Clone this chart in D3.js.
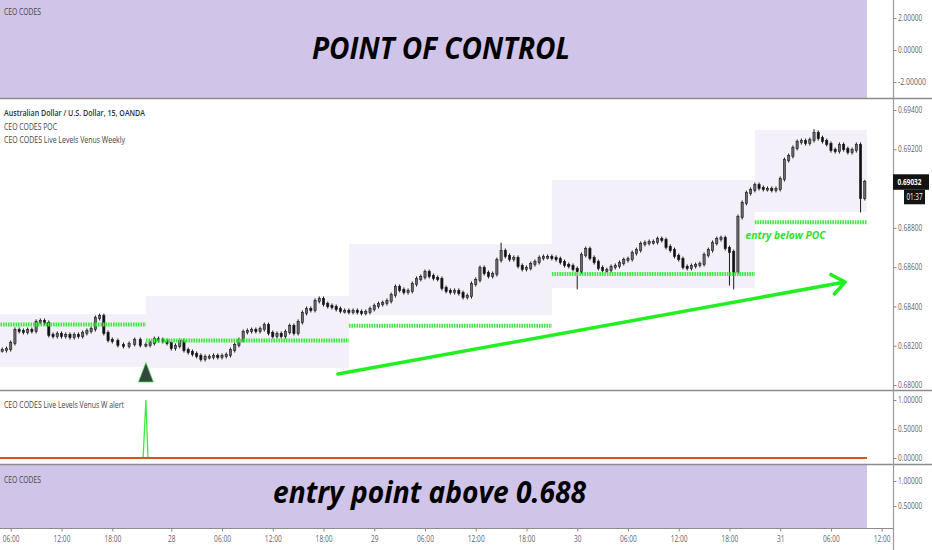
<!DOCTYPE html>
<html>
<head>
<meta charset="utf-8">
<script src="https://cdn.jsdelivr.net/npm/d3@7"></script>
<style>
  body { margin: 0; background: #fff; }
  svg text { font-family: "Open Sans", "DejaVu Sans", sans-serif; }
</style>
</head>
<body>
<svg id="chart"></svg>
<script>
// AUD/USD at 30 min steps (hours counted from the 27th 00:00)
const firstBarHour = 4.5;
const barStep = 0.5;
const closes = [
  0.68178, 0.68178, 0.68183, 0.68214, 0.68280, 0.68275, 0.68270, 0.68280, 0.68275, 0.68321,
  0.68326, 0.68316, 0.68255, 0.68249, 0.68260, 0.68249, 0.68255, 0.68244, 0.68255, 0.68249,
  0.68265, 0.68275, 0.68285, 0.68341, 0.68351, 0.68265, 0.68229, 0.68224, 0.68204, 0.68199,
  0.68209, 0.68229, 0.68204, 0.68204, 0.68214, 0.68234, 0.68229, 0.68224, 0.68214, 0.68188,
  0.68199, 0.68224, 0.68178, 0.68168, 0.68158, 0.68148, 0.68132, 0.68143, 0.68143, 0.68148,
  0.68143, 0.68148, 0.68153, 0.68178, 0.68204, 0.68229, 0.68270, 0.68275, 0.68280, 0.68275,
  0.68285, 0.68305, 0.68265, 0.68249, 0.68260, 0.68249, 0.68270, 0.68300, 0.68265, 0.68321,
  0.68367, 0.68387, 0.68382, 0.68428, 0.68438, 0.68412, 0.68402, 0.68397, 0.68387, 0.68377,
  0.68377, 0.68372, 0.68377, 0.68372, 0.68367, 0.68372, 0.68387, 0.68402, 0.68412, 0.68417,
  0.68428, 0.68458, 0.68499, 0.68484, 0.68473, 0.68479, 0.68514, 0.68540, 0.68550, 0.68575,
  0.68555, 0.68545, 0.68540, 0.68494, 0.68479, 0.68473, 0.68479, 0.68468, 0.68448, 0.68453,
  0.68514, 0.68535, 0.68596, 0.68570, 0.68555, 0.68565, 0.68636, 0.68682, 0.68657, 0.68641,
  0.68647, 0.68606, 0.68591, 0.68596, 0.68616, 0.68626, 0.68647, 0.68652, 0.68652, 0.68647,
  0.68641, 0.68626, 0.68611, 0.68606, 0.68591, 0.68580, 0.68662, 0.68692, 0.68647, 0.68626,
  0.68596, 0.68585, 0.68585, 0.68601, 0.68606, 0.68621, 0.68636, 0.68641, 0.68672, 0.68687,
  0.68718, 0.68723, 0.68728, 0.68728, 0.68743, 0.68738, 0.68703, 0.68687, 0.68657, 0.68641,
  0.68601, 0.68596, 0.68606, 0.68611, 0.68616, 0.68662, 0.68687, 0.68723, 0.68743, 0.68748,
  0.68697, 0.68677, 0.68575, 0.68855, 0.68927, 0.68977, 0.68993, 0.69018, 0.69003, 0.68998,
  0.68998, 0.68993, 0.68998, 0.69049, 0.69145, 0.69166, 0.69207, 0.69237, 0.69242, 0.69232,
  0.69247, 0.69283, 0.69257, 0.69242, 0.69227, 0.69196, 0.69191, 0.69222, 0.69201, 0.69186,
  0.69196, 0.69222, 0.68952, 0.69032
];
// long wicks worth keeping: [bar index, price]
const wickLows = [[135, 0.68499], [171, 0.68519], [172, 0.68499], [202, 0.68891]];
const wickHighs = [[117, 0.68712], [191, 0.69290]];

// daily sessions (21:00 to 21:00) of the POC / Venus weekly levels
const sessionStart = [4.5, 21, 45, 69, 93];
const sessionEnd = [21, 45, 69, 93, 106.25];
const pocLevel = [0.68308, 0.68226, 0.68302, 0.68565, 0.68828];
const rangeHigh = [0.68361, 0.68453, 0.68718, 0.69044, 0.69298];
const rangeLow = [0.68092, 0.68087, 0.68356, 0.68494, 0.68881];

// alert pane
const alertHours = [4.5, 20.75, 21, 21.25, 106.25];
const alertValues = [0, 0, 1, 0, 0];
const signalHour = 21;
const signalPrice = 0.68064;

// drawn annotations
const arrowHours = [43.7, 103.67];
const arrowPrices = [0.68056, 0.68524];
const noteHour = 91.9;
const notePrice = 0.68743;

const lastPrice = 0.69032;
const countdown = "01:37";

const priceTicks = [0.680, 0.682, 0.684, 0.686, 0.688, 0.692, 0.694];
const topTicks = [-2, 0, 2];
const alertTicks = [0, 0.5, 1];
const bottomTicks = [0.5, 1];
const timeTickHours = [6, 12, 18, 24, 30, 36, 42, 48, 54, 60, 66, 72, 78, 84, 90, 96, 102, 108];
const timeTickLabels = ["06:00", "12:00", "18:00", "28", "06:00", "12:00", "18:00", "29", "06:00",
  "12:00", "18:00", "30", "06:00", "12:00", "18:00", "31", "06:00", "12:00"];

const width = 932;
const height = 550;
const axisX = 893;
const endX = 867;
const purple = "#d1c4e9";
const sepColor = "#8c8c8c";
const labelColor = "#5d606b";

const svg = d3.select("#chart")
    .attr("width", width)
    .attr("height", height);

// time scale is piecewise: the chart squeezes a little more into the first evening
const x = d3.scaleLinear().domain([6, 18, 21, 108]).range([10.7, 112.3, 145.9, 881.7]);
const yTop = d3.scaleLinear().domain([-2, 2]).range([82, 18]);
const y = d3.scaleLinear().domain([0.680, 0.694]).range([385, 110]);
const yAlert = d3.scaleLinear().domain([0, 1]).range([458, 400]);
const yBottom = d3.scaleLinear().domain([0.5, 1]).range([506, 481]);

// the screenshot is squeezed sideways, so text widths are forced
function squeeze(t) {
    let w = 0;
    for (const ch of t) w += (ch === "." || ch === ":") ? 1.8 : 3.75;
    return w;
}

// pane backgrounds
svg.append("rect").attr("x", 0).attr("y", 0).attr("width", endX).attr("height", 98).attr("fill", purple);
svg.append("rect").attr("x", 0).attr("y", 465).attr("width", endX).attr("height", 63).attr("fill", purple);

// main pane
svg.append("clipPath").attr("id", "mainClip")
  .append("rect").attr("x", 0).attr("y", 99).attr("width", axisX).attr("height", 291);
const main = svg.append("g").attr("clip-path", "url(#mainClip)");

main.selectAll("rect.range")
    .data(sessionStart)
    .enter().append("rect")
    .attr("class", "range")
    .attr("x", (d, i) => x(d))
    .attr("width", (d, i) => x(sessionEnd[i]) - x(d))
    .attr("y", (d, i) => y(rangeHigh[i]))
    .attr("height", (d, i) => y(rangeLow[i]) - y(rangeHigh[i]))
    .attr("fill", "#f3f0f9");

const bars = closes.map((c, i) => {
    const o = i > 0 ? closes[i - 1] : c;
    let hi = Math.max(o, c), lo = Math.min(o, c);
    wickLows.forEach(w => { if (w[0] === i) lo = Math.min(lo, w[1]); });
    wickHighs.forEach(w => { if (w[0] === i) hi = Math.max(hi, w[1]); });
    return { h: firstBarHour + i * barStep, o: o, c: c, hi: hi, lo: lo };
});

main.selectAll("line.wick")
    .data(bars)
    .enter().append("line")
    .attr("class", "wick")
    .attr("x1", d => x(d.h)).attr("x2", d => x(d.h))
    .attr("y1", d => y(d.hi) - 2.5)
    .attr("y2", d => y(d.lo) + 2.5)
    .attr("stroke", "#1c1c1c")
    .attr("stroke-width", 1);

main.selectAll("rect.body")
    .data(bars)
    .enter().append("rect")
    .attr("class", "body")
    .attr("x", d => x(d.h) - 1.1)
    .attr("width", 2.2)
    .attr("y", d => y(Math.max(d.o, d.c)) - 0.6)
    .attr("height", d => Math.max(1.8, Math.abs(y(d.o) - y(d.c)) + 1.2))
    .attr("fill", d => d.c >= d.o ? "#6b6b6b" : "#111")
    .attr("stroke", "#1c1c1c")
    .attr("stroke-width", 0.6);

// POC lines
main.selectAll("line.poc")
    .data(pocLevel)
    .enter().append("line")
    .attr("class", "poc")
    .attr("x1", (d, i) => x(sessionStart[i]))
    .attr("x2", (d, i) => x(sessionEnd[i]))
    .attr("y1", d => y(d)).attr("y2", d => y(d))
    .attr("stroke", "#3fe83f")
    .attr("stroke-width", 4)
    .attr("stroke-dasharray", "1.6 0.9");

// arrow
const p0 = [x(arrowHours[0]), y(arrowPrices[0])];
const p1 = [x(arrowHours[1]), y(arrowPrices[1])];
const ang = Math.atan2(p0[1] - p1[1], p0[0] - p1[0]);
const headLen = 16, spread = 38 * Math.PI / 180;
const arrowPath = d3.path();
arrowPath.moveTo(p0[0], p0[1]);
arrowPath.lineTo(p1[0], p1[1]);
arrowPath.moveTo(p1[0] + headLen * Math.cos(ang - spread), p1[1] + headLen * Math.sin(ang - spread));
arrowPath.lineTo(p1[0], p1[1]);
arrowPath.lineTo(p1[0] + headLen * Math.cos(ang + spread), p1[1] + headLen * Math.sin(ang + spread));
main.append("path")
    .attr("d", arrowPath.toString())
    .attr("fill", "none")
    .attr("stroke", "#22ee22")
    .attr("stroke-width", 3.5)
    .attr("stroke-linecap", "round")
    .attr("stroke-linejoin", "round");

main.append("text")
    .attr("x", x(noteHour)).attr("y", y(notePrice))
    .attr("font-size", 10.5)
    .attr("font-weight", 700)
    .attr("font-style", "italic")
    .attr("fill", "#2ee02e")
    .attr("textLength", 80)
    .attr("lengthAdjust", "spacingAndGlyphs")
    .text("entry below POC");

// signal triangle
main.append("path")
    .attr("transform", `translate(${x(signalHour)},${y(signalPrice)})`)
    .attr("d", "M0,-10L7.5,9.6L-7.5,9.6Z")
    .attr("fill", "#2f4a3a")
    .attr("stroke", "#5be35b")
    .attr("stroke-width", 0.7);

// alert pane
const alertLine = d3.line().x((d, i) => x(alertHours[i])).y(d => yAlert(d));
svg.append("path")
    .attr("d", alertLine(alertValues))
    .attr("fill", "none")
    .attr("stroke", "#3ee83e")
    .attr("stroke-width", 1.3);
svg.append("line")
    .attr("x1", 0).attr("x2", x(alertHours[alertHours.length - 1]))
    .attr("y1", yAlert(0)).attr("y2", yAlert(0))
    .attr("stroke", "#d4541a")
    .attr("stroke-width", 2);

// separators and the price axis line
[98.5, 390.5, 464.5].forEach(s => {
    svg.append("line").attr("x1", 0).attr("x2", width).attr("y1", s).attr("y2", s)
        .attr("stroke", sepColor).attr("stroke-width", 1.4);
});
svg.append("line").attr("x1", 0).attr("x2", axisX).attr("y1", 528.5).attr("y2", 528.5)
    .attr("stroke", sepColor).attr("stroke-width", 1.2);
svg.append("line").attr("x1", axisX + 0.5).attr("x2", axisX + 0.5).attr("y1", 0).attr("y2", height)
    .attr("stroke", "#9a9a9a").attr("stroke-width", 1.2);

// right axes
const priceFormat = v => d3.format(".5f")(v).replace("\u2212", "-");
function rightAxis(scale, ticks) {
    const g = svg.append("g")
        .attr("transform", `translate(${axisX + 0.5},0)`)
        .call(d3.axisRight(scale).tickValues(ticks).tickFormat(priceFormat).tickSize(3).tickPadding(1.5));
    g.select(".domain").remove();
    g.selectAll(".tick line").attr("stroke", "#888");
    g.selectAll(".tick text")
        .attr("fill", labelColor)
        .attr("font-size", 8.4)
        .attr("font-family", "Open Sans, sans-serif")
        .attr("textLength", function () { return squeeze(this.textContent); })
        .attr("lengthAdjust", "spacingAndGlyphs");
}
rightAxis(yTop, topTicks);
rightAxis(y, priceTicks);
rightAxis(yAlert, alertTicks);
rightAxis(yBottom, bottomTicks);

// time axis
const tAxis = svg.append("g")
    .attr("transform", "translate(0,528.5)")
    .call(d3.axisBottom(x).tickValues(timeTickHours).tickFormat((d, i) => timeTickLabels[i]).tickSize(3).tickPadding(4));
tAxis.select(".domain").remove();
tAxis.selectAll(".tick line").attr("stroke", "#888");
tAxis.selectAll(".tick text")
    .attr("fill", labelColor)
    .attr("font-size", 9)
    .attr("font-family", "Open Sans, sans-serif")
    .attr("textLength", function () { return squeeze(this.textContent); })
    .attr("lengthAdjust", "spacingAndGlyphs");

// last price tag
const ly = y(lastPrice);
svg.append("rect").attr("x", axisX).attr("y", ly - 8).attr("width", 36).attr("height", 15.5).attr("fill", "#131313");
svg.append("text").attr("x", axisX + 4.5).attr("y", ly + 3.2)
    .attr("font-size", 8.4).attr("font-weight", 700).attr("fill", "#fff")
    .attr("textLength", 24).attr("lengthAdjust", "spacingAndGlyphs")
    .text(d3.format(".5f")(lastPrice));
svg.append("rect").attr("x", axisX + 11).attr("y", ly + 7.5).attr("width", 21).attr("height", 14.5).attr("fill", "#131313");
svg.append("text").attr("x", axisX + 13.5).attr("y", ly + 18)
    .attr("font-size", 8.4).attr("fill", "#fff")
    .attr("textLength", 16).attr("lengthAdjust", "spacingAndGlyphs")
    .text(countdown);

// pane captions
function caption(tx, ty, txt, len, weight, color) {
    svg.append("text")
        .attr("x", tx).attr("y", ty)
        .attr("font-size", 8.2)
        .attr("font-weight", weight)
        .attr("fill", color)
        .attr("textLength", len)
        .attr("lengthAdjust", "spacingAndGlyphs")
        .text(txt);
}
caption(4, 15, "CEO CODES", 37, 400, "#444");
caption(4, 116, "Australian Dollar / U.S. Dollar, 15, OANDA", 141, 600, "#2a2e39");
caption(4, 129.7, "CEO CODES POC", 53, 400, "#444");
caption(4, 143.3, "CEO CODES Live Levels Venus Weekly", 121, 400, "#444");
caption(4, 408, "CEO CODES Live Levels Venus W alert", 120, 400, "#444");
caption(4, 483, "CEO CODES", 37, 400, "#444");

// big headlines
svg.append("text")
    .attr("x", 312).attr("y", 59)
    .attr("font-size", 30).attr("font-weight", 700).attr("font-style", "italic")
    .attr("fill", "#000")
    .attr("textLength", 258).attr("lengthAdjust", "spacingAndGlyphs")
    .text("POINT OF CONTROL");
svg.append("text")
    .attr("x", 273).attr("y", 503)
    .attr("font-size", 30).attr("font-weight", 700).attr("font-style", "italic")
    .attr("fill", "#000")
    .attr("textLength", 313).attr("lengthAdjust", "spacingAndGlyphs")
    .text("entry point above 0.688");
</script>
</body>
</html>
